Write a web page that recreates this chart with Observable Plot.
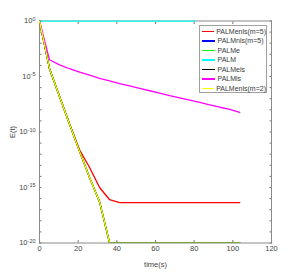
<!DOCTYPE html>
<html><head><meta charset="utf-8">
<script src="https://cdn.jsdelivr.net/npm/d3@7"></script>
<script src="https://cdn.jsdelivr.net/npm/@observablehq/plot@0.6"></script>
<style>
html,body{margin:0;padding:0;background:#fff;}
#chart{position:relative;width:300px;height:273px;font-family:"Liberation Sans",Arial,sans-serif;}
#legend{position:absolute;left:199px;top:25px;width:68px;height:68px;border:1px solid #a0a0a0;background:#fff;box-sizing:border-box;padding-top:1px;}
#legend .row{height:9.43px;line-height:9.43px;font-size:7px;color:#3a3a3a;white-space:nowrap;display:flex;align-items:center;}
#legend .sw{display:inline-block;width:13.5px;height:1.4px;margin-left:1.5px;margin-right:2.5px;}
</style></head><body><div id="chart"><div id="legend"></div></div>
<script>
// time samples (s)
const time = [0, 5.18, 10.36, 15.54, 20.72, 25.9, 31.08, 36.26, 41.44, 46.62, 51.8, 56.98, 62.16, 67.34, 72.52, 77.7, 82.88, 88.06, 93.24, 98.42, 103.6];
// PALM runs on its own (shorter) record
const palmTime = [0, 80.4];
const palm = [1, 1];
// E(t) for each method
const palmEnlsM5 = [1, 5.0e-5, 1.6e-7, 5.6e-10, 2.5e-12, 6.3e-14, 1.0e-15, 7.9e-17, 4.4e-17, 4.4e-17, 4.4e-17, 4.4e-17, 4.4e-17, 4.4e-17, 4.4e-17, 4.4e-17, 4.4e-17, 4.4e-17, 4.4e-17, 4.4e-17, 4.4e-17];
const palmNlsM5 = [1, 5.0e-5, 1.6e-7, 5.0e-10, 1.8e-12, 7.9e-15, 5.0e-17, 1e-20, 1e-20, 1e-20, 1e-20, 1e-20, 1e-20, 1e-20, 1e-20, 1e-20, 1e-20, 1e-20, 1e-20, 1e-20, 1e-20];
const palmE = [1, 5.0e-5, 1.6e-7, 5.0e-10, 1.8e-12, 7.9e-15, 5.0e-17, 1e-20, 1e-20, 1e-20, 1e-20, 1e-20, 1e-20, 1e-20, 1e-20, 1e-20, 1e-20, 1e-20, 1e-20, 1e-20, 1e-20];
const palmEls = [1, 5.0e-5, 1.6e-7, 5.0e-10, 1.8e-12, 7.9e-15, 5.0e-17, 1e-20, 1e-20, 1e-20, 1e-20, 1e-20, 1e-20, 1e-20, 1e-20, 1e-20, 1e-20, 1e-20, 1e-20, 1e-20, 1e-20];
const palmLs = [1, 3.2e-4, 1.1e-4, 5.0e-5, 2.5e-5, 1.3e-5, 6.8e-6, 4.0e-6, 2.3e-6, 1.4e-6, 8.5e-7, 5.2e-7, 3.2e-7, 1.9e-7, 1.2e-7, 7.4e-8, 4.6e-8, 2.8e-8, 1.7e-8, 1.1e-8, 6.0e-9];
const palmEnlsM2 = [1, 5.0e-5, 1.6e-7, 5.0e-10, 1.8e-12, 7.9e-15, 5.0e-17, 1e-20, 1e-20, 1e-20, 1e-20, 1e-20, 1e-20, 1e-20, 1e-20, 1e-20, 1e-20, 1e-20, 1e-20, 1e-20, 1e-20];

const seriesNames = ["PALMenls(m=5)", "PALMnls(m=5)", "PALMe", "PALM", "PALMels", "PALMls", "PALMenls(m=2)"];
const seriesColors = ["#ff0000", "#0000ff", "#00ff00", "#00ffff", "#000000", "#ff00ff", "#ffff00"];
const xTicks = [0, 20, 40, 60, 80, 100, 120];
const yLabelTicks = [1, 1e-5, 1e-10, 1e-15, 1e-20];
const yMinorTicks = [1, 1e-1, 1e-2, 1e-3, 1e-4, 1e-5, 1e-6, 1e-7, 1e-8, 1e-9, 1e-10, 1e-11, 1e-12, 1e-13, 1e-14, 1e-15, 1e-16, 1e-17, 1e-18, 1e-19, 1e-20];

const seriesData = [
  [time, palmEnlsM5], [time, palmNlsM5], [time, palmE], [palmTime, palm],
  [time, palmEls], [time, palmLs], [time, palmEnlsM2]
].map(([ts, vs], i) => ts.map((t, j) => ({t, e: vs[j], name: seriesNames[i]})));

const tickColor = "#777";
const textColor = "#444";

const plot = Plot.plot({
  width: 300,
  height: 273,
  marginLeft: 39,
  marginRight: 29,
  marginTop: 20.5,
  marginBottom: 30.5,
  style: {fontFamily: "'Liberation Sans', Arial, sans-serif", fontSize: "7.5px", background: "#fff", color: textColor},
  x: {domain: [0, 120]},
  y: {type: "log", domain: [1e-20, 1]},
  marks: [
    Plot.axisX({anchor: "top", ticks: xTicks, tickSize: -2.5, fill: "none", stroke: tickColor, label: null}),
    Plot.axisX({anchor: "bottom", ticks: xTicks, tickSize: -2.5, tickPadding: 5, stroke: tickColor, fill: textColor,
      tickFormat: d => String(d), label: "time(s)", labelAnchor: "center", labelArrow: "none", labelOffset: 24}),
    Plot.axisY({anchor: "left", ticks: yMinorTicks, tickSize: -2.5, fill: "none", stroke: tickColor, label: null}),
    Plot.axisY({anchor: "right", ticks: yMinorTicks, tickSize: -2.5, fill: "none", stroke: tickColor, label: null}),
    Plot.axisY({anchor: "left", ticks: yLabelTicks, tickSize: 0, tickPadding: 4, fill: textColor,
      tickFormat: d => String(Math.round(Math.log10(d))), label: "E(t)", labelAnchor: "center", labelArrow: "none", labelOffset: 30}),
    Plot.frame({stroke: "#8a8a8a", strokeWidth: 1}),
    ...seriesData.map((d, i) => Plot.line(d, {x: "t", y: "e", stroke: seriesColors[i], strokeWidth: 1.3, clip: true}))
  ]
});

// turn exponent labels into 10^n with real superscripts
d3.select(plot).selectAll('g[aria-label="y-axis tick label"] text').each(function() {
  const exp = this.textContent;
  const t = d3.select(this);
  t.text("10");
  t.append("tspan").attr("dy", "-0.5em").attr("font-size", "5.5px").text(exp);
});

const chart = document.getElementById("chart");
chart.insertBefore(plot, chart.firstChild);
plot.style.position = "absolute";
plot.style.left = "0";
plot.style.top = "0";

const legend = d3.select("#legend");
seriesNames.forEach((n, i) => {
  const row = legend.append("div").attr("class", "row");
  row.append("span").attr("class", "sw").style("background", seriesColors[i]);
  row.append("span").text(n);
});
</script>
</body></html>
